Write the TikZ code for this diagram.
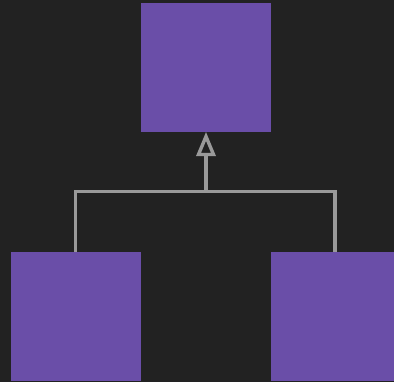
\documentclass[tikz,border=0pt]{standalone}
\definecolor{bgc}{HTML}{222222}
\definecolor{boxc}{HTML}{6A4EA8}
\definecolor{linec}{HTML}{9A9A9A}
\begin{document}
\begin{tikzpicture}[x=1pt,y=-1pt,
  classbox/.style={fill=boxc,draw=none,minimum width=130pt,minimum height=129pt,inner sep=0pt,outer sep=0pt,anchor=north west},
  conn/.style={draw=linec,line width=3.4pt}]
\fill[bgc] (0,0) rectangle (394,382);
\useasboundingbox (0,0) rectangle (394,382);
\begin{scope}
\clip (0,0) rectangle (394,382);
\node[classbox] (top) at (141,3) {};
\node[classbox] (bl) at (11,252) {};
\node[classbox] (br) at (271,252) {};
\end{scope}
\coordinate (j) at (206,191.5);
\coordinate (blc) at (75.5,252);
\coordinate (brc) at (335,252);
\draw[conn] (blc) |- (j) -| (brc);
\draw[conn] (j) -- ([yshift=-21pt]top.south);
\draw[conn,fill=bgc,line join=miter] ([yshift=-4.5pt]top.south) -- ([xshift=-7.5pt,yshift=-22.5pt]top.south) -- ([xshift=7.5pt,yshift=-22.5pt]top.south) -- cycle;
\end{tikzpicture}
\end{document}
